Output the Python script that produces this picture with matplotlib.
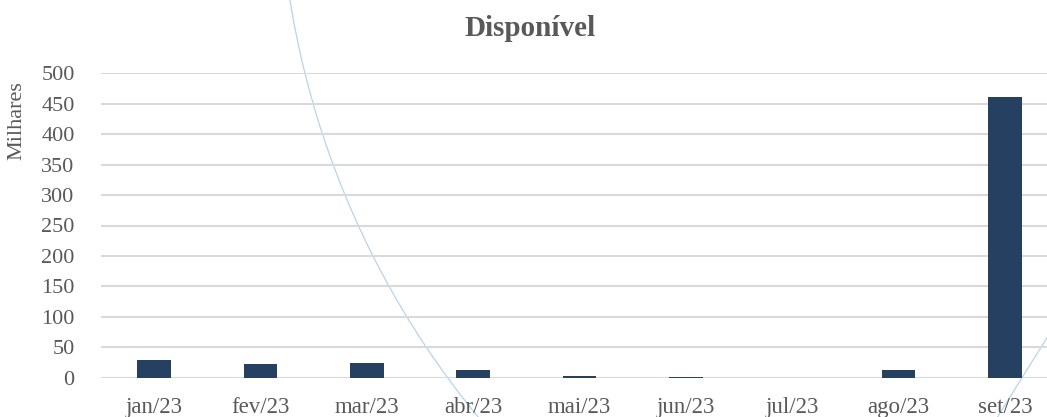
import matplotlib
matplotlib.use("Agg")
import matplotlib.pyplot as plt
from matplotlib.patches import Circle

categories = ["jan/23", "fev/23", "mar/23", "abr/23", "mai/23", "jun/23", "jul/23", "ago/23", "set/23"]
values = [28.5, 23, 24, 12.5, 3, 1, 0.3, 12.6, 461.6]
yticks = [0, 50, 100, 150, 200, 250, 300, 350, 400, 450, 500]

W, H = 1047, 417
plt.rcParams['font.family'] = ['Liberation Serif', 'DejaVu Serif']
text_color = '#595959'
bar_color = '#264061'
grid_color = '#D9D9D9'
deco_color = '#B7D5E8'

fig = plt.figure(figsize=(W / 100, H / 100), dpi=100)
fig.patch.set_facecolor('white')

# decorative background shapes (pixel space)
bg = fig.add_axes([0, 0, 1, 1], zorder=0)
bg.set_xlim(0, W)
bg.set_ylim(H, 0)
bg.axis('off')
bg.add_patch(Circle((1152, -138), 873, fill=False, edgecolor=deco_color, linewidth=0.9))
bg.plot([1060, 985], [317, 437], color=deco_color, linewidth=0.9)

ax = fig.add_axes([101 / W, (H - 377.7) / H, (1058 - 101) / W, (377.7 - 73.3) / H], zorder=1)
ax.patch.set_alpha(0)
x = list(range(len(categories)))
ax.bar(x, values, width=0.314, color=bar_color, zorder=3)
ax.set_xlim(-0.5, len(categories) - 0.5)
ax.set_ylim(0, 500)
ax.set_yticks(yticks)
ax.set_xticks(x)
ax.set_xticklabels(categories)
ax.yaxis.grid(True, color=grid_color, linewidth=1.5, zorder=0)
ax.set_axisbelow(True)
for s in ax.spines.values():
    s.set_visible(False)
ax.tick_params(axis='both', length=0, labelsize=16, colors=text_color)
ax.tick_params(axis='x', labelsize=16.5)
ax.tick_params(axis='y', pad=19)
ax.tick_params(axis='x', pad=14)

fig.text(17 / W, 1 - 121 / H, "Milhares", rotation=90, ha='center', va='center',
         fontsize=16, color=text_color)
fig.text(530 / W, 1 - 28 / H, "Disponível", ha='center', va='center',
         fontsize=21, fontweight='bold', color=text_color)

fig.savefig("out.png", dpi=100)
